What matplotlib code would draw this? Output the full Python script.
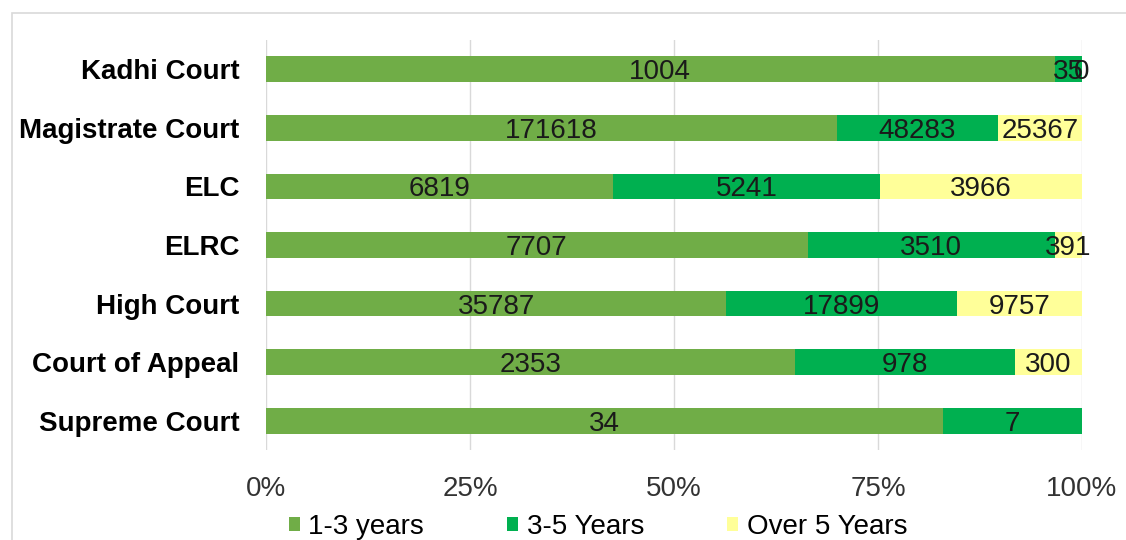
import matplotlib
matplotlib.use('Agg')
import matplotlib.pyplot as plt
from matplotlib.patches import Rectangle
import numpy as np

# datos (de arriba hacia abajo en el grafico)
courts = ["Kadhi Court", "Magistrate Court", "ELC", "ELRC",
          "High Court", "Court of Appeal", "Supreme Court"]
years_1_3 = [1004, 171618, 6819, 7707, 35787, 2353, 34]
years_3_5 = [35, 48283, 5241, 3510, 17899, 978, 7]
over_5 = [0, 25367, 3966, 391, 9757, 300, 0]
series_names = ["1-3 years", "3-5 Years", "Over 5 Years"]
colors = ["#70AD47", "#00B050", "#FFFF99"]

plt.rcParams['font.family'] = ['Liberation Sans', 'DejaVu Sans']

fig = plt.figure(figsize=(11.26, 5.4), dpi=100)
ax = fig.add_axes([266 / 1126, 1 - 450 / 540, (1082 - 266) / 1126, 410 / 540])

# marco gris del area del grafico
fig.patches.append(Rectangle((12 / 1126, -0.1), 1.2, 1 - 13 / 540 + 0.1,
                             transform=fig.transFigure, fill=False,
                             edgecolor="#D9D9D9", linewidth=1.2))

data = np.array([years_1_3, years_3_5, over_5], dtype=float)
totals = data.sum(axis=0)
shares = data / totals * 100
y = np.arange(len(courts))

left = np.zeros(len(courts))
for i in range(3):
    bars = ax.barh(y, shares[i], left=left, height=0.44, color=colors[i],
                   label=series_names[i], zorder=2)
    for j, bar in enumerate(bars):
        # Supreme Court no tiene serie "Over 5 Years"
        if i == 2 and j == len(courts) - 1:
            continue
        cx = bar.get_x() + bar.get_width() / 2
        cy = bar.get_y() + bar.get_height() / 2
        ax.text(cx, cy, f"{int(data[i][j])}", ha='center',
                va='center_baseline', fontsize=20, color="#1a1a1a",
                zorder=3, clip_on=False)
    left += shares[i]

ax.set_ylim(len(courts) - 0.5, -0.5)
ax.set_xlim(0, 100)
ax.set_yticks(y)
ax.set_yticklabels(courts, fontsize=20, fontweight='bold')
ax.set_xticks([0, 25, 50, 75, 100])
ax.set_xticklabels(["0%", "25%", "50%", "75%", "100%"], fontsize=20,
                   color="#333333")
ax.tick_params(axis='both', length=0)
ax.tick_params(axis='x', pad=19)
ax.tick_params(axis='y', pad=19)
ax.grid(True, axis='x', color="#D9D9D9", linewidth=1, zorder=0)
for s in ax.spines.values():
    s.set_visible(False)

ax.legend(loc='center', bbox_to_anchor=(598 / 1126, 13 / 540),
          bbox_transform=fig.transFigure, ncol=3, frameon=False,
          fontsize=20, handlelength=0.4, handleheight=0.4,
          handletextpad=0.3, columnspacing=3.0)

fig.savefig("out.png", dpi=100)
